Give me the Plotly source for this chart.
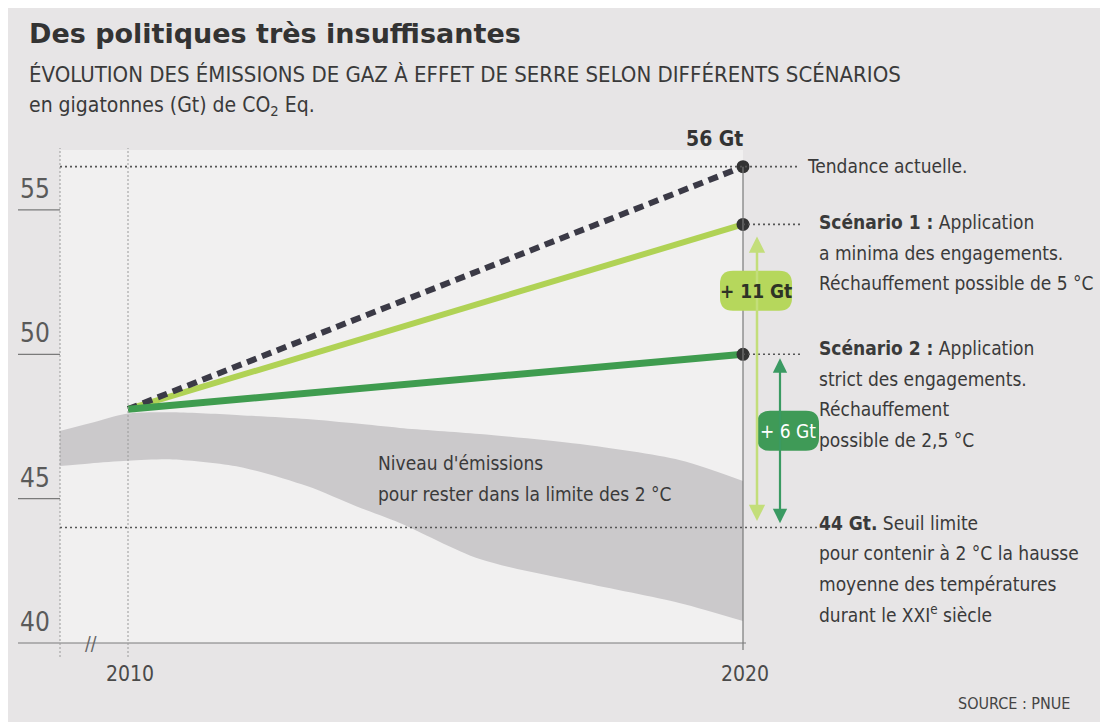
import plotly.graph_objects as go

# ---------------- data ----------------
years = [2010, 2020]
tendance = [48.1, 56.5]      # Tendance actuelle (56 Gt)
scenario1 = [48.1, 54.5]     # Scénario 1
scenario2 = [48.1, 50.0]     # Scénario 2
seuil = 44.0                 # 44 Gt seuil limite
gap_labels = ["+ 11 Gt", "+ 6 Gt"]

band_years = [2008.89, 2009.38, 2010.0, 2010.73, 2011.82, 2012.91, 2013.72,
              2014.42, 2015.72, 2017.35, 2018.98, 2020.0]
band_upper = [47.34, 47.61, 47.95, 47.99, 47.89, 47.76, 47.60,
              47.45, 47.24, 46.89, 46.33, 45.61]
band_lower = [46.13, 46.22, 46.31, 46.36, 46.10, 45.44, 44.73,
              44.16, 42.91, 42.11, 41.38, 40.76]

y_ticks = [40, 45, 50, 55]
x_ticks = [2010, 2020]
x_tick_labels = ["2010", "2020"]

# ---------------- geometry (screen pixels; page body has an 8px margin) ----------------
OFF = 8
W, H = 1108 - OFF, 722 - OFF
PL, PR, PT, PB = 18, 1090, 100, 692      # plot area in screen px
PX_PER_YEAR = 61.5
PX_PER_GT = 28.87
X0_PX, Y0_PX = 128, 643                 # screen px of (2010, 40)

def X(px):
    return 2010 + (px - X0_PX) / PX_PER_YEAR

def Yv(py):
    return 40 + (Y0_PX - py) / PX_PER_GT

def py_of(v):
    return Y0_PX - (v - 40) * PX_PER_GT

def PX(px):
    return (px - PL) / (PR - PL)

def PY(py):
    return (PB - py) / (PB - PT)

NARROW = "DejaVu Sans Condensed, Liberation Sans Narrow, Roboto, sans-serif"
TXT = "#3a3a3a"
LIGHT_GREEN = "#b0d255"
DARK_GREEN = "#3f9c4f"
DASH_COL = "#3b3a46"
BAND = "#cbc9cb"
PAPER = "#e7e5e6"
INNER = "#f1f0f0"

x_left = X(60)
fig = go.Figure()

# band (niveau 2 °C)
fig.add_trace(go.Scatter(x=band_years, y=band_lower, mode="lines",
                         line=dict(width=0, shape="spline", smoothing=0.8),
                         hoverinfo="skip", showlegend=False))
fig.add_trace(go.Scatter(x=band_years, y=band_upper, mode="lines",
                         line=dict(width=0, shape="spline", smoothing=0.8),
                         fill="tonexty", fillcolor=BAND,
                         hoverinfo="skip", showlegend=False))

# scenario lines
fig.add_trace(go.Scatter(x=years, y=scenario1, mode="lines",
                         line=dict(color=LIGHT_GREEN, width=6),
                         hoverinfo="skip", showlegend=False))
fig.add_trace(go.Scatter(x=years, y=tendance, mode="lines",
                         line=dict(color=DASH_COL, width=6, dash="10px,6px"),
                         hoverinfo="skip", showlegend=False))
fig.add_trace(go.Scatter(x=years, y=scenario2, mode="lines",
                         line=dict(color=DARK_GREEN, width=7),
                         hoverinfo="skip", showlegend=False))
fig.add_trace(go.Scatter(x=[years[1]] * 3, y=[tendance[1], scenario1[1], scenario2[1]],
                         mode="markers", marker=dict(color="#333333", size=13),
                         hoverinfo="skip", showlegend=False))

shapes = []
shapes.append(dict(type="rect", xref="x", yref="y", x0=x_left, x1=x_ticks[1],
                   y0=y_ticks[0], y1=Yv(150), fillcolor=INNER, line=dict(width=0),
                   layer="below"))
shapes.append(dict(type="line", xref="x", yref="y", x0=X(18), x1=X(746),
                   y0=y_ticks[0], y1=y_ticks[0], line=dict(color="#7a7a7a", width=1.2)))
for t in y_ticks[1:]:
    shapes.append(dict(type="line", xref="x", yref="y", x0=X(18), x1=x_left,
                       y0=t, y1=t, line=dict(color="#7a7a7a", width=1.2)))
for xv in [x_left, x_ticks[0]]:
    shapes.append(dict(type="line", xref="x", yref="y", x0=xv, x1=xv,
                       y0=Yv(657), y1=Yv(148), line=dict(color="#9a9a9a", width=1, dash="2px,2px")))
shapes.append(dict(type="line", xref="x", yref="y", x0=x_ticks[1], x1=x_ticks[1],
                   y0=Yv(650), y1=tendance[1], line=dict(color="#7a7a7a", width=1.2)))
DOT = dict(color="#555555", width=1.6, dash="2px,3px")
shapes.append(dict(type="line", xref="x", yref="y", x0=x_left, x1=X(800),
                   y0=tendance[1], y1=tendance[1], line=DOT))
for v in [scenario1[1], scenario2[1]]:
    shapes.append(dict(type="line", xref="x", yref="y", x0=x_ticks[1], x1=X(800),
                       y0=v, y1=v, line=DOT))
shapes.append(dict(type="line", xref="x", yref="y", x0=x_left, x1=X(818),
                   y0=seuil, y1=seuil, line=DOT))

def rounded_rect(xc, yc, w, h, r, color):
    a, b = w / 2, h / 2
    path = (f"M {-a + r},{-b} L {a - r},{-b} Q {a},{-b} {a},{-b + r} "
            f"L {a},{b - r} Q {a},{b} {a - r},{b} L {-a + r},{b} Q {-a},{b} {-a},{b - r} "
            f"L {-a},{-b + r} Q {-a},{-b} {-a + r},{-b} Z")
    return dict(type="path", xref="x", yref="y", xsizemode="pixel", ysizemode="pixel",
                xanchor=xc, yanchor=yc, path=path, fillcolor=color, line=dict(width=0),
                layer="above")

ann = []
x_a11 = X(757)
x_a6 = X(780)
ann.append(dict(x=x_a11, y=scenario1[1] - 0.42, ax=x_a11, ay=seuil + 0.17, xref="x", yref="y",
                axref="x", ayref="y", text="", showarrow=True, arrowhead=2, arrowsize=1.3,
                arrowside="end+start", arrowwidth=2.5, arrowcolor="#c3de7a"))
ann.append(dict(x=x_a6, y=scenario2[1] - 0.14, ax=x_a6, ay=seuil + 0.1, xref="x", yref="y",
                axref="x", ayref="y", text="", showarrow=True, arrowhead=2, arrowsize=1.3,
                arrowside="end+start", arrowwidth=2.2, arrowcolor="#3a9a62"))

b11 = (X(756), seuil + 8.2)
b6 = (X(788), seuil + 3.35)
shapes.append(rounded_rect(b11[0], b11[1], 72, 40, 13, "#b6d75c"))
shapes.append(rounded_rect(b6[0], b6[1], 62, 40, 13, "#3f9a57"))
ann.append(dict(x=b11[0], y=b11[1], xref="x", yref="y", text=f"<b>{gap_labels[0]}</b>",
                showarrow=False, font=dict(family=NARROW, size=19, color="#2e3326")))
ann.append(dict(x=b6[0], y=b6[1], xref="x", yref="y", text=gap_labels[1],
                showarrow=False, font=dict(family=NARROW, size=19, color="#ffffff")))

# titles
ann.append(dict(x=PX(27), y=PY(33), xref="paper", yref="paper", xanchor="left", yanchor="middle",
                text="<b>Des politiques très insuffisantes</b>", showarrow=False,
                font=dict(family="DejaVu Sans, Liberation Sans, sans-serif", size=27,
                          color="#333333")))
ann.append(dict(x=PX(27), y=PY(75), xref="paper", yref="paper", xanchor="left", yanchor="middle",
                text="ÉVOLUTION DES ÉMISSIONS DE GAZ À EFFET DE SERRE SELON DIFFÉRENTS SCÉNARIOS",
                showarrow=False, font=dict(family=NARROW, size=22, color=TXT)))
ann.append(dict(x=PX(27), y=PY(106), xref="paper", yref="paper", xanchor="left", yanchor="middle",
                text="en gigatonnes (Gt) de CO<sub>2</sub> Eq.", showarrow=False,
                font=dict(family=NARROW, size=21, color=TXT)))

for t in y_ticks:
    ann.append(dict(x=X(18), y=t, xref="x", yref="y", xanchor="left", yanchor="bottom",
                    text=str(t), showarrow=False, yshift=4,
                    font=dict(family=NARROW, size=26, color="#5a5a5a")))
for xv, lab in zip(x_ticks, x_tick_labels):
    ann.append(dict(x=xv, y=Yv(674), xref="x", yref="y", xanchor="center", yanchor="middle",
                    text=lab, showarrow=False, xshift=2,
                    font=dict(family=NARROW, size=21, color="#4a4a4a")))
ann.append(dict(x=X(91), y=y_ticks[0], xref="x", yref="y", text="//", showarrow=False,
                font=dict(family=NARROW, size=19, color="#666666")))

ann.append(dict(x=x_ticks[1], y=tendance[1], xref="x", yref="y", xanchor="right", yanchor="bottom",
                text="<b>56 Gt</b>", showarrow=False, yshift=14, xshift=2,
                font=dict(family=NARROW, size=21, color="#333333")))

LINE = 30.5
def text_block(lines, x_px, first_py, size=19):
    for i, ln in enumerate(lines):
        ann.append(dict(x=X(x_px), y=Yv(first_py + i * LINE), xref="x", yref="y",
                        xanchor="left", yanchor="middle", text=ln, showarrow=False,
                        font=dict(family=NARROW, size=size, color=TXT)))

text_block(["Tendance actuelle."], 805, py_of(tendance[1]) - 1)
text_block(["<b>Scénario 1 :</b> Application", "a minima des engagements.",
            "Réchauffement possible de 5 °C"], 817, py_of(scenario1[1]) - 2)
text_block(["<b>Scénario 2 :</b> Application", "strict des engagements.",
            "Réchauffement", "possible de 2,5 °C"], 817, py_of(scenario2[1]) - 6)
text_block(["<b>44 Gt.</b> Seuil limite", "pour contenir à 2 °C la hausse",
            "moyenne des températures", "durant le XXI<sup>e</sup> siècle"], 817, py_of(seuil) - 5)
text_block(["Niveau d'émissions", "pour rester dans la limite des 2 °C"], 376, 463, size=19)

ann.append(dict(x=PX(1072), y=PY(703), xref="paper", yref="paper", xanchor="right", yanchor="middle",
                text="SOURCE : PNUE", showarrow=False,
                font=dict(family=NARROW, size=16, color="#444444")))

fig.update_layout(
    width=W, height=H,
    margin=dict(l=PL - OFF, r=1108 - PR, t=PT - OFF, b=722 - PB, autoexpand=False),
    paper_bgcolor=PAPER, plot_bgcolor=PAPER,
    showlegend=False,
    xaxis=dict(range=[X(PL), X(PR)], visible=False, fixedrange=True),
    yaxis=dict(range=[Yv(PB), Yv(PT)], visible=False, fixedrange=True),
    shapes=shapes, annotations=ann,
)

fig.write_html("out.html")
